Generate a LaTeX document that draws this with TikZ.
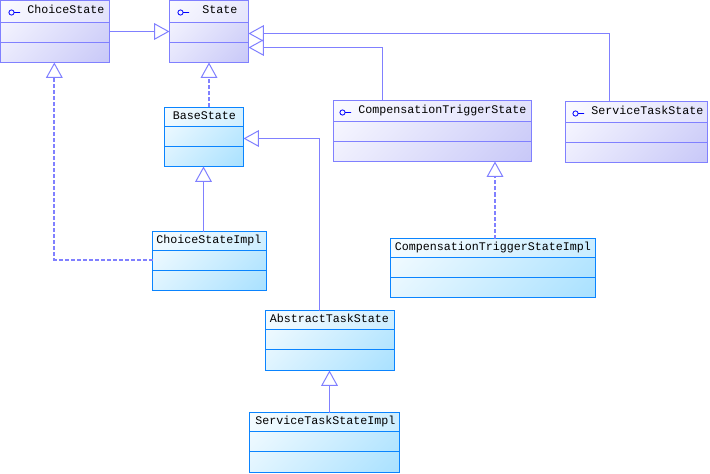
\documentclass[tikz,border=0pt]{standalone}
\usepackage{fontspec}
\setmonofont{Liberation Mono}
\usetikzlibrary{arrows.meta}
\definecolor{ifaceline}{HTML}{8080FF}
\definecolor{ifacelight}{HTML}{FAFAFF}
\definecolor{ifacedark}{HTML}{C8C8F8}
\definecolor{ifacetop}{HTML}{DADAFA}
\definecolor{classline}{HTML}{0A84FF}
\definecolor{classlight}{HTML}{F6FCFF}
\definecolor{classdark}{HTML}{A9E1FF}
\definecolor{classtop}{HTML}{BFE9FF}
\pgfdeclareverticalshading{ifaceshade}{100bp}{color(0bp)=(ifacedark); color(15bp)=(ifacedark); color(85bp)=(ifacelight); color(100bp)=(ifacelight)}
\pgfdeclareverticalshading{ifacehead}{100bp}{color(0bp)=(ifacetop); color(15bp)=(ifacetop); color(85bp)=(ifacelight); color(100bp)=(ifacelight)}
\pgfdeclareverticalshading{classshade}{100bp}{color(0bp)=(classdark); color(15bp)=(classdark); color(85bp)=(classlight); color(100bp)=(classlight)}
\pgfdeclareverticalshading{classhead}{100bp}{color(0bp)=(classtop); color(15bp)=(classtop); color(85bp)=(classlight); color(100bp)=(classlight)}
\tikzset{
	box/.style={rectangle, inner sep=0pt, outer sep=0pt, line width=.75pt},
	ifacebox/.style={box, draw=ifaceline, shade, shading=ifaceshade, shading angle=45,
		path picture={
			\shade[shading=ifacehead, shading angle=45]
				(path picture bounding box.north west) rectangle ([yshift={-#1*.75pt}]path picture bounding box.north east);
			\draw[ifaceline, line width=.75pt] ([yshift={-#1*.75pt}]path picture bounding box.north west) -- ([yshift={-#1*.75pt}]path picture bounding box.north east);
			\draw[ifaceline, line width=.75pt] ([yshift={-(#1+20)*.75pt}]path picture bounding box.north west) -- ([yshift={-(#1+20)*.75pt}]path picture bounding box.north east);
		}},
	classbox/.style={box, draw=classline, shade, shading=classshade, shading angle=45,
		path picture={
			\shade[shading=classhead, shading angle=45]
				(path picture bounding box.north west) rectangle ([yshift=-14.25pt]path picture bounding box.north east);
			\draw[classline, line width=.75pt] ([yshift=-14.25pt]path picture bounding box.north west) -- ([yshift=-14.25pt]path picture bounding box.north east);
			\draw[classline, line width=.75pt] ([yshift=-29.25pt]path picture bounding box.north west) -- ([yshift=-29.25pt]path picture bounding box.north east);
		}},
	title/.style={anchor=base west, inner sep=0pt, font=\ttfamily\fontsize{8.75pt}{10pt}\selectfont},
	extends/.style={draw=ifaceline, line width=.75pt, -{Triangle[open,length=11.5pt,width=12.5pt,line width=.75pt]}},
	realizes/.style={draw=ifaceline, line width=1.5pt, dash pattern=on 3pt off 1.5pt, -{Triangle[open,length=11.5pt,width=12.5pt,line width=.75pt]}},
}
\begin{document}
\begin{tikzpicture}[x=.75pt, y=-.75pt, line join=miter]
	\useasboundingbox (0,0) rectangle (710,474);
	% interfaces
	\foreach \name/\xa/\ya/\xb/\yb/\sep/\tx/\ix/\txt in {
		ChoiceState/0.5/0.5/109.5/62.5/22/27/11.5/ChoiceState,
		State/169.5/0.5/248.5/62.5/22/202/180.5/State,
		CompTrigger/333.5/100.5/531.5/161.5/21/358/342.5/CompensationTriggerState,
		ServiceTask/565.5/101.5/707.5/162.5/21/591/575.5/ServiceTaskState}{
		\node[ifacebox=\sep, minimum width={(\xb-\xa)*.75pt}, minimum height={(\yb-\ya)*.75pt}] (\name) at ({(\xa+\xb)/2},{(\ya+\yb)/2}) {};
		\node[title] (\name-title) at (\tx,\ya+13) {\txt};
		\draw[blue, line width=.6pt] (\ix,\ya+12) circle (2.6) ++(2.6,0) -- ++(6,0);
	}
	% classes
	\foreach \name/\xa/\ya/\xb/\yb/\tx/\txt in {
		BaseState/164.5/107.5/243.5/166.5/172.5/BaseState,
		ChoiceImpl/152.5/231.5/266.5/290.5/156/ChoiceStateImpl,
		CompTriggerImpl/390.5/238.5/595.5/297.5/394.5/CompensationTriggerStateImpl,
		AbstractTask/265.5/310.5/394.5/370.5/269.5/AbstractTaskState,
		ServiceTaskImpl/249.5/412.5/399.5/472.5/255/ServiceTaskStateImpl}{
		\node[classbox, minimum width={(\xb-\xa)*.75pt}, minimum height={(\yb-\ya)*.75pt}] (\name) at ({(\xa+\xb)/2},{(\ya+\yb)/2}) {};
		\node[title] (\name-title) at (\tx,\ya+12) {\txt};
	}
	% generalizations
	\draw[extends] (ChoiceState) -- (State);
	\draw[extends] ([xshift=-.375pt]BaseState.south |- ChoiceImpl.north) -- ([xshift=-.375pt]BaseState.south);
	\draw[extends] ([xshift=-7.875pt]AbstractTask.north) |- ([yshift=-1.125pt]BaseState.east);
	\draw[extends] ([xshift=-37.5pt]CompTrigger.north) |- ([yshift=-12pt]State.east);
	\draw[extends] ([xshift=-20.25pt]ServiceTask.north) |- ([yshift=-1.5pt]State.east);
	\draw[extends] ([xshift=-.375pt]AbstractTask.south |- ServiceTaskImpl.north) -- ([xshift=-.375pt]AbstractTask.south);
	% realizations
	\draw[realizes] ([yshift=.75pt]ChoiceImpl.west) -| ([xshift=-.5pt]ChoiceState.south);
	\draw[realizes] (State.south |- BaseState.north) -- (State.south);
	\draw[realizes] ([xshift=46.875pt]CompTrigger.south |- CompTriggerImpl.north) -- ([xshift=46.875pt]CompTrigger.south);
\end{tikzpicture}
\end{document}
